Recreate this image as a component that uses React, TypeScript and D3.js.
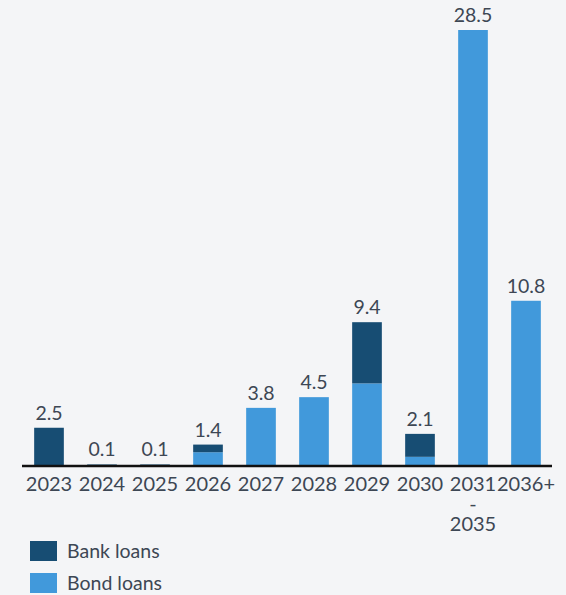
import React from "react";
import * as d3 from "d3";

const categories = ["2023", "2024", "2025", "2026", "2027", "2028", "2029", "2030", "2031\n-\n2035", "2036+"];
const bankLoans = [2.5, 0.1, 0.1, 0.5, 0, 0, 4.0, 1.5, 0, 0];
const bondLoans = [0, 0, 0, 0.9, 3.8, 4.5, 5.4, 0.6, 28.5, 10.8];
const totalLabels = ["2.5", "0.1", "0.1", "1.4", "3.8", "4.5", "9.4", "2.1", "28.5", "10.8"];
const seriesNames = ["Bank loans", "Bond loans"];

const W = 566;
const H = 595;
const BANK = "#174d73";
const BOND = "#4199db";
const TEXT = "#3d4754";
const FONT = "Lato, 'Open Sans', sans-serif";

export default function App() {
  const x = d3
    .scaleBand<string>()
    .domain(categories)
    .range([22.5, 552.5])
    .paddingInner(0.44)
    .paddingOuter(0.22);
  const y = d3.scaleLinear().domain([0, 28.5]).range([466, 30]);

  const stacked = categories.map((c, i) => ({
    c,
    bond: bondLoans[i],
    bank: bankLoans[i],
  }));

  return (
    <svg
      width={W}
      height={H}
      style={{ position: "fixed", left: 0, top: 0, background: "#f4f5f7" }}
      fontFamily={FONT}
    >
      <rect x={0} y={0} width={W} height={H} fill="#f4f5f7" />
      {stacked.map((d, i) => {
        const bx = x(d.c)!;
        const bw = x.bandwidth();
        const bondTop = y(d.bond);
        const bankTop = y(d.bond + d.bank);
        return (
          <g key={d.c}>
            {d.bond > 0 && (
              <rect x={bx} y={bondTop} width={bw} height={y(0) - bondTop} fill={BOND} />
            )}
            {d.bank > 0 && (
              <rect x={bx} y={bankTop} width={bw} height={bondTop - bankTop} fill={BANK} />
            )}
            <text
              x={bx + bw / 2}
              y={bankTop - 8}
              textAnchor="middle"
              fontSize={19.5}
              fill={TEXT}
            >
              {totalLabels[i]}
            </text>
          </g>
        );
      })}
      <line x1={22} x2={552} y1={y(0)} y2={y(0)} stroke="#111" strokeWidth={2.5} />
      {categories.map((c) => {
        const lines = c.split("\n");
        return (
          <text
            key={c}
            x={x(c)! + x.bandwidth() / 2}
            y={491}
            textAnchor="middle"
            fontSize={20}
            fill={TEXT}
          >
            {lines.map((l, j) => (
              <tspan key={j} x={x(c)! + x.bandwidth() / 2} dy={j === 0 ? 0 : 20}>
                {l}
              </tspan>
            ))}
          </text>
        );
      })}
      {seriesNames.map((s, i) => (
        <g key={s} transform={`translate(30, ${541 + i * 32})`}>
          <rect x={0} y={0} width={27} height={20} fill={i === 0 ? BANK : BOND} />
          <text x={37} y={16.5} fontSize={19.5} fill={TEXT}>
            {s}
          </text>
        </g>
      ))}
    </svg>
  );
}
